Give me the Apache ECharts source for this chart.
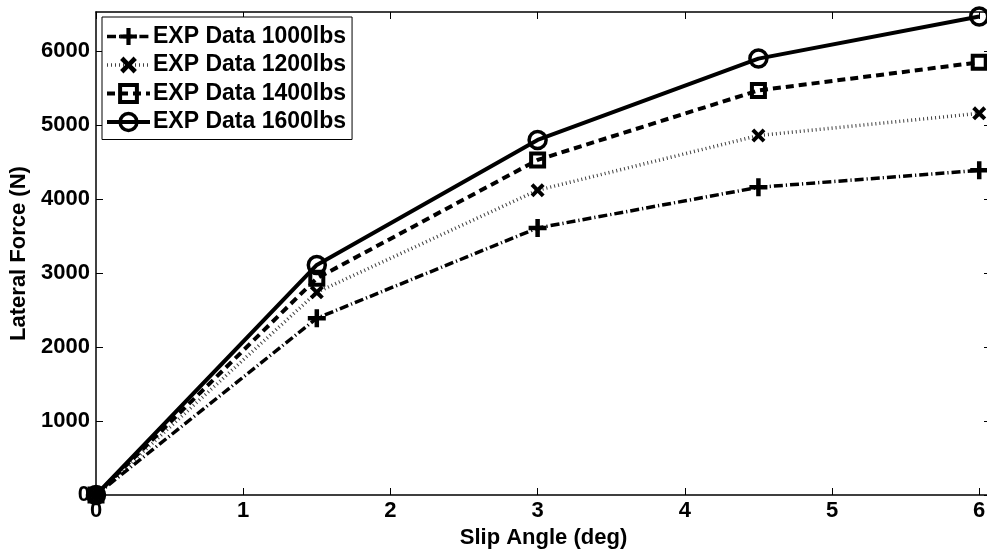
<!DOCTYPE html>
<html>
<head>
<meta charset="utf-8">
<title>Lateral Force vs Slip Angle</title>
<script src="https://cdn.jsdelivr.net/npm/echarts@6/dist/echarts.min.js"></script>
<style>
  html, body { margin: 0; padding: 0; background: #fff; }
  #chart { width: 987px; height: 552px; }
</style>
</head>
<body>
<div id="chart"></div>
<script>
// Slip angle (deg) at which each load case was measured
var slipAngles = [0, 1.5, 3, 4.5, 6];

// Measured lateral force (N) for each vertical load
var force1000 = [0, 2390, 3610, 4160, 4390];
var force1200 = [0, 2740, 4120, 4860, 5160];
var force1400 = [0, 2930, 4530, 5470, 5850];
var force1600 = [0, 3110, 4800, 5900, 6470];

var seriesNames = ['EXP Data 1000lbs', 'EXP Data 1200lbs', 'EXP Data 1400lbs', 'EXP Data 1600lbs'];

var FONT = '"Liberation Sans", Arial, Helvetica, sans-serif';

var PLUS = 'path://M7.5,0H12.5V7.5H20V12.5H12.5V20H7.5V12.5H0V7.5H7.5Z';
var CROSS = 'path://M0,4L4,0L10,6L16,0L20,4L14,10L20,16L16,20L10,14L4,20L0,16L6,10Z';

function pairs(ys) {
  return slipAngles.map(function (x, i) { return [x, ys[i]]; });
}

var chart = echarts.init(document.getElementById('chart'), null, { renderer: 'canvas' });

var baseX = {
  type: 'value', min: 0, max: 6.08, interval: 1,
  axisLine: { show: true, onZero: false, lineStyle: { color: '#000', width: 1.5 } },
  axisTick: { show: true, inside: true, length: 7, lineStyle: { color: '#000', width: 1 } },
  splitLine: { show: false }
};
var baseY = {
  type: 'value', min: 0, max: 6530, interval: 1000,
  axisLine: { show: true, onZero: false, lineStyle: { color: '#000', width: 1.5 } },
  axisTick: { show: true, inside: true, length: 7, lineStyle: { color: '#000', width: 1 } },
  splitLine: { show: false }
};

var labelStyle = { fontFamily: FONT, fontWeight: 'bold', fontSize: 22, color: '#000' };

chart.setOption({
  backgroundColor: '#fff',
  animation: false,
  textStyle: { fontFamily: FONT },
  grid: { left: 96, right: -4, top: 12, bottom: 57, containLabel: false, outerBoundsMode: 'none' },
  xAxis: [
    Object.assign({}, baseX, {
      position: 'bottom',
      name: 'Slip Angle (deg)', nameLocation: 'middle', nameGap: 29,
      nameTextStyle: labelStyle,
      axisLabel: Object.assign({ show: true, margin: 5, showMaxLabel: false,
        formatter: function (v) { return String(v); } }, labelStyle)
    }),
    Object.assign({}, baseX, { position: 'top', axisLabel: { show: false } })
  ],
  yAxis: [
    Object.assign({}, baseY, {
      position: 'left',
      name: 'Lateral Force (N)', nameLocation: 'middle', nameGap: 63,
      nameTextStyle: labelStyle,
      axisLabel: Object.assign({ show: true, margin: 6, showMaxLabel: false,
        formatter: function (v) { return String(v); } }, labelStyle)
    }),
    Object.assign({}, baseY, { position: 'right', axisLabel: { show: false } })
  ],
  legend: {
    orient: 'vertical', left: 102, top: 17,
    data: seriesNames,
    backgroundColor: '#fff', borderColor: '#000', borderWidth: 1, borderRadius: 0,
    padding: [8, 6, 6, 3],
    itemWidth: 43, itemHeight: 21, itemGap: 5.5,
    itemStyle: { borderWidth: 'inherit' },
    lineStyle: { width: 'inherit', type: 'inherit' },
    textStyle: { fontFamily: FONT, fontWeight: 'bold', fontSize: 23, lineHeight: 23, color: '#000', padding: [0, 0, 0, -2] }
  },
  series: [
    {
      name: seriesNames[0], type: 'line', clip: false, data: pairs(force1000),
      symbol: PLUS, symbolSize: 18,
      itemStyle: { color: '#000', borderWidth: 0 },
      lineStyle: { color: '#000', width: 3.5, type: [9, 3, 1.2, 3], cap: 'butt' }
    },
    {
      name: seriesNames[1], type: 'line', clip: false, data: pairs(force1200),
      symbol: CROSS, symbolSize: 14,
      itemStyle: { color: '#000', borderWidth: 0 },
      lineStyle: { color: '#000', width: 3.5, type: [1, 3], cap: 'butt', opacity: 0.75 }
    },
    {
      name: seriesNames[2], type: 'line', clip: false, data: pairs(force1400),
      symbol: 'rect', symbolSize: 13,
      itemStyle: { color: 'rgba(255,255,255,0)', borderColor: '#000', borderWidth: 4 },
      lineStyle: { color: '#000', width: 4, type: [8, 5], cap: 'butt' }
    },
    {
      name: seriesNames[3], type: 'line', clip: false, data: pairs(force1600),
      symbol: 'circle', symbolSize: 17,
      itemStyle: { color: 'rgba(255,255,255,0)', borderColor: '#000', borderWidth: 3.5 },
      lineStyle: { color: '#000', width: 4, type: 'solid' }
    }
  ]
});
</script>
</body>
</html>
